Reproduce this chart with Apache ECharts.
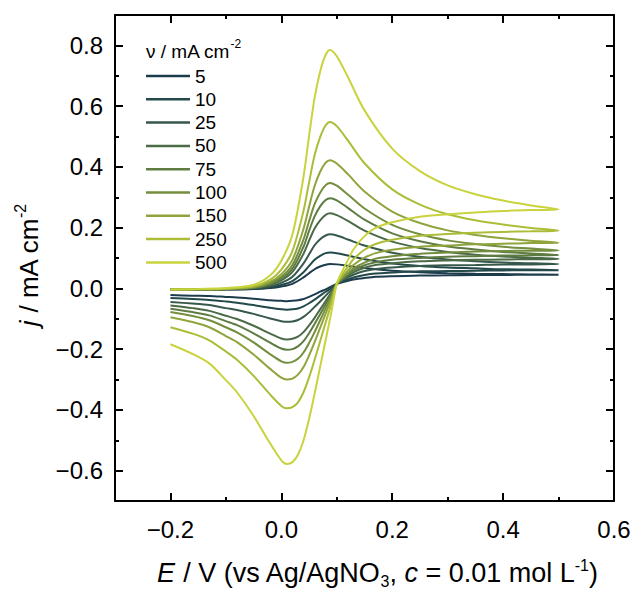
<!DOCTYPE html>
<html><head><meta charset="utf-8">
<script src="https://cdn.jsdelivr.net/npm/echarts@6/dist/echarts.min.js"></script>
<style>html,body{margin:0;padding:0;background:#fff}#c{width:635px;height:594px}</style>
</head><body><div id="c"></div>
<script>
// ---------- data ----------
const RATES = ['5', '10', '25', '50', '75', '100', '150', '250', '500'];
const COLORS = ['#1c3c4e', '#23494a', '#37594b', '#4b6b47', '#5e7c42', '#748e3e', '#8fa43b', '#acbd38', '#c8d33d'];

// potentials of the forward (anodic) sweep, V
const E_FWD = [-0.2, -0.15, -0.1, -0.05, -0.02, 0.0, 0.02, 0.04, 0.05, 0.06, 0.07, 0.08, 0.088, 0.1, 0.12, 0.15, 0.2, 0.25, 0.3, 0.35, 0.4, 0.45, 0.5];
// potentials of the reverse (cathodic) sweep, V
const E_REV = [0.45, 0.4, 0.35, 0.3, 0.25, 0.2, 0.17, 0.15, 0.13, 0.12, 0.11, 0.1, 0.09, 0.08, 0.07, 0.06, 0.05, 0.04, 0.03, 0.02, 0.01, 0.0, -0.02, -0.05, -0.08, -0.1, -0.13, -0.16, -0.2];

const fwd5 = [-0.004, -0.004, -0.004, -0.002, 0.001, 0.006, 0.015, 0.036, 0.05, 0.063, 0.072, 0.078, 0.08, 0.079, 0.074, 0.067, 0.058, 0.053, 0.05, 0.048, 0.047, 0.046, 0.045];
const rev5 = [0.045, 0.044, 0.044, 0.043, 0.042, 0.04, 0.038, 0.034, 0.029, 0.025, 0.02, 0.015, 0.006, -0.003, -0.011, -0.02, -0.028, -0.035, -0.039, -0.041, -0.042, -0.041, -0.039, -0.034, -0.03, -0.028, -0.025, -0.024, -0.022];

const fwd10 = [-0.004, -0.004, -0.003, -0.002, 0.003, 0.011, 0.024, 0.053, 0.074, 0.094, 0.107, 0.116, 0.118, 0.116, 0.108, 0.096, 0.082, 0.074, 0.069, 0.066, 0.063, 0.062, 0.06];
const rev10 = [0.06, 0.059, 0.058, 0.057, 0.056, 0.052, 0.049, 0.044, 0.036, 0.029, 0.023, 0.015, 0.001, -0.011, -0.024, -0.037, -0.049, -0.059, -0.066, -0.069, -0.07, -0.069, -0.064, -0.055, -0.047, -0.043, -0.038, -0.035, -0.032];

const fwd25 = [-0.004, -0.004, -0.003, 0.0, 0.007, 0.018, 0.038, 0.082, 0.112, 0.142, 0.162, 0.174, 0.178, 0.174, 0.161, 0.141, 0.117, 0.104, 0.095, 0.089, 0.085, 0.083, 0.08];
const rev25 = [0.079, 0.079, 0.077, 0.076, 0.074, 0.069, 0.064, 0.057, 0.045, 0.036, 0.026, 0.015, -0.005, -0.024, -0.043, -0.061, -0.079, -0.094, -0.104, -0.109, -0.11, -0.108, -0.099, -0.084, -0.071, -0.065, -0.055, -0.05, -0.045];

const fwd50 = [-0.004, -0.004, -0.002, 0.001, 0.011, 0.026, 0.054, 0.114, 0.157, 0.197, 0.224, 0.242, 0.247, 0.241, 0.222, 0.19, 0.154, 0.133, 0.12, 0.111, 0.105, 0.101, 0.097];
const rev50 = [0.096, 0.095, 0.094, 0.092, 0.089, 0.083, 0.077, 0.068, 0.053, 0.041, 0.029, 0.015, -0.014, -0.042, -0.069, -0.097, -0.122, -0.144, -0.159, -0.166, -0.168, -0.165, -0.149, -0.123, -0.101, -0.09, -0.074, -0.065, -0.056];

const fwd75 = [-0.004, -0.003, -0.002, 0.002, 0.014, 0.032, 0.065, 0.137, 0.189, 0.237, 0.27, 0.291, 0.297, 0.29, 0.265, 0.226, 0.181, 0.155, 0.138, 0.128, 0.12, 0.115, 0.11];
const rev75 = [0.109, 0.108, 0.106, 0.104, 0.1, 0.094, 0.086, 0.076, 0.059, 0.045, 0.031, 0.015, -0.02, -0.052, -0.085, -0.117, -0.148, -0.174, -0.191, -0.2, -0.202, -0.198, -0.179, -0.148, -0.121, -0.108, -0.089, -0.078, -0.067];

const fwd100 = [-0.004, -0.003, -0.002, 0.003, 0.017, 0.038, 0.077, 0.161, 0.221, 0.277, 0.315, 0.34, 0.347, 0.338, 0.309, 0.263, 0.209, 0.178, 0.158, 0.146, 0.137, 0.131, 0.125];
const rev100 = [0.124, 0.123, 0.121, 0.118, 0.114, 0.106, 0.098, 0.085, 0.066, 0.05, 0.034, 0.015, -0.027, -0.066, -0.105, -0.144, -0.18, -0.211, -0.232, -0.242, -0.245, -0.24, -0.217, -0.178, -0.145, -0.128, -0.105, -0.091, -0.078];

const fwd150 = [-0.004, -0.003, -0.001, 0.005, 0.022, 0.047, 0.094, 0.196, 0.269, 0.337, 0.384, 0.414, 0.422, 0.411, 0.376, 0.319, 0.253, 0.215, 0.191, 0.176, 0.165, 0.157, 0.15];
const rev150 = [0.149, 0.147, 0.145, 0.141, 0.137, 0.127, 0.116, 0.101, 0.077, 0.058, 0.038, 0.015, -0.035, -0.083, -0.13, -0.177, -0.221, -0.259, -0.284, -0.297, -0.3, -0.294, -0.265, -0.218, -0.177, -0.157, -0.128, -0.111, -0.095];

const fwd250 = [-0.004, -0.003, -0.001, 0.007, 0.029, 0.062, 0.123, 0.255, 0.349, 0.438, 0.498, 0.537, 0.548, 0.534, 0.487, 0.412, 0.326, 0.276, 0.244, 0.224, 0.21, 0.199, 0.19];
const rev250 = [0.188, 0.186, 0.183, 0.179, 0.173, 0.16, 0.146, 0.127, 0.096, 0.071, 0.045, 0.015, -0.051, -0.112, -0.174, -0.235, -0.293, -0.342, -0.375, -0.391, -0.395, -0.387, -0.35, -0.288, -0.235, -0.208, -0.171, -0.149, -0.128];

const fwd500 = [-0.004, -0.002, 0.001, 0.012, 0.043, 0.091, 0.177, 0.367, 0.501, 0.627, 0.714, 0.769, 0.785, 0.764, 0.696, 0.586, 0.46, 0.386, 0.339, 0.31, 0.289, 0.273, 0.26];
const rev500 = [0.258, 0.255, 0.25, 0.244, 0.236, 0.218, 0.199, 0.172, 0.128, 0.093, 0.057, 0.015, -0.08, -0.169, -0.258, -0.347, -0.43, -0.501, -0.548, -0.572, -0.578, -0.566, -0.511, -0.42, -0.342, -0.302, -0.247, -0.216, -0.184];

const FWD = [fwd5, fwd10, fwd25, fwd50, fwd75, fwd100, fwd150, fwd250, fwd500];
const REV = [rev5, rev10, rev25, rev50, rev75, rev100, rev150, rev250, rev500];

const X_MAJOR = [-0.2, 0.0, 0.2, 0.4, 0.6];
const X_MINOR = [-0.1, 0.1, 0.3, 0.5];
const Y_MAJOR = [-0.6, -0.4, -0.2, 0.0, 0.2, 0.4, 0.6, 0.8];
const Y_MINOR = [-0.5, -0.3, -0.1, 0.1, 0.3, 0.5, 0.7];

// ---------- chart ----------
const FONT = '"Liberation Sans", Arial, Helvetica, sans-serif';
const BLACK = '#000';
const fmt = v => (v < 0 ? '\u2212' : '') + Math.abs(v).toFixed(1);
const lineSt = { color: BLACK, width: 2 };

function xAx(position, major, showLine) {
  return {
    type: 'value', position: position, min: -0.3, max: 0.6,
    axisLine: { show: showLine, onZero: false, lineStyle: lineSt },
    axisTick: { show: true, inside: true, length: major ? 8 : 4, customValues: major ? X_MAJOR : X_MINOR, lineStyle: lineSt },
    axisLabel: { show: false },
    splitLine: { show: false }
  };
}
function yAx(position, major, showLine) {
  return {
    type: 'value', position: position, min: -0.7, max: 0.9,
    axisLine: { show: showLine, onZero: false, lineStyle: lineSt },
    axisTick: { show: true, inside: true, length: major ? 8 : 4, customValues: major ? Y_MAJOR : Y_MINOR, lineStyle: lineSt },
    axisLabel: { show: false },
    splitLine: { show: false }
  };
}

const xMain = xAx('bottom', true, true);
xMain.axisLabel = { show: true, customValues: X_MAJOR, formatter: fmt, fontSize: 24, fontFamily: FONT, color: BLACK, margin: 16 };
xMain.name = '{i|E} / V (vs Ag/AgNO{sub|3}, {i|c} = 0.01 mol L{sup|-1})';
xMain.nameLocation = 'middle';
xMain.nameGap = 56;
xMain.nameTextStyle = {
  fontSize: 27, fontFamily: FONT, color: BLACK, lineHeight: 32, padding: [0, 0, 0, 26],
  rich: {
    i: { fontSize: 27, fontFamily: FONT, fontStyle: 'italic', color: BLACK, lineHeight: 32 },
    sub: { fontSize: 16, fontFamily: FONT, color: BLACK, lineHeight: 17, verticalAlign: 'bottom' },
    sup: { fontSize: 16, fontFamily: FONT, color: BLACK, lineHeight: 17, verticalAlign: 'top' }
  }
};

const yMain = yAx('left', true, true);
yMain.axisLabel = { show: true, customValues: Y_MAJOR, formatter: fmt, fontSize: 24, fontFamily: FONT, color: BLACK, margin: 12 };
yMain.name = '{i|j} / mA cm{sup|-2}';
yMain.nameLocation = 'middle';
yMain.nameGap = 70;
yMain.nameTextStyle = {
  fontSize: 26, fontFamily: FONT, color: BLACK, lineHeight: 32, padding: [0, 14, 0, 0],
  rich: {
    i: { fontSize: 26, fontFamily: FONT, fontStyle: 'italic', color: BLACK, lineHeight: 32 },
    sup: { fontSize: 16, fontFamily: FONT, color: BLACK, lineHeight: 17, verticalAlign: 'top' }
  }
};

const series = RATES.map((r, k) => ({
  name: r,
  type: 'line',
  xAxisIndex: 0, yAxisIndex: 0,
  showSymbol: false, symbol: 'none',
  smooth: 0.3,
  color: COLORS[k],
  lineStyle: { color: COLORS[k], width: 2 },
  data: E_FWD.map((e, i) => [e, FWD[k][i]]).concat(E_REV.map((e, i) => [e, REV[k][i]]))
}));

const chart = echarts.init(document.getElementById('c'), null, { renderer: 'svg' });
chart.setOption({
  animation: false,
  backgroundColor: '#fff',
  grid: { left: 115, right: 21, top: 15, bottom: 89, containLabel: false },
  xAxis: [xMain, xAx('bottom', false, false), xAx('top', true, true), xAx('top', false, false)],
  yAxis: [yMain, yAx('left', false, false), yAx('right', true, true), yAx('right', false, false)],
  legend: {
    orient: 'vertical', left: 146, top: 66.5, padding: 0,
    icon: 'rect', itemWidth: 44, itemHeight: 2.5, itemGap: 4.3,
    selectedMode: false,
    textStyle: { fontSize: 19, fontFamily: FONT, color: BLACK, lineHeight: 19 },
    data: RATES
  },
  graphic: [{
    type: 'text', left: 146, top: 38,
    style: {
      text: '{b|\u03bd / mA cm}{sup|-2}',
      rich: {
        b: { fontSize: 19, fontFamily: FONT, fill: BLACK, lineHeight: 26 },
        sup: { fontSize: 12, fontFamily: FONT, fill: BLACK, lineHeight: 14, verticalAlign: 'top' }
      }
    }
  }],
  series: series
});
</script>
</body></html>
